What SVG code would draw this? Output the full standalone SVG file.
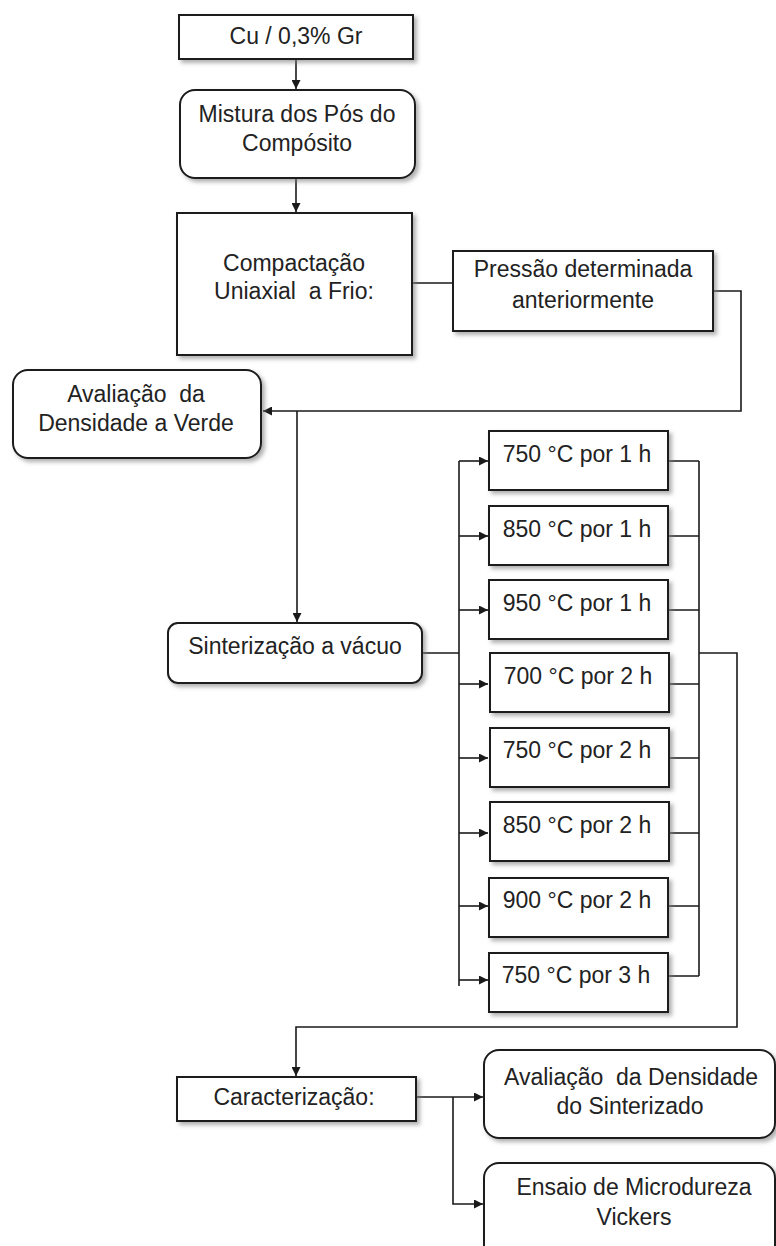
<svg xmlns="http://www.w3.org/2000/svg" width="776" height="1246" viewBox="0 0 776 1246">
  <style>
    .box { fill: #ffffff; stroke: #1a1a1a; stroke-width: 2; filter: url(#shadow); }
    .lbl { font-family: "Liberation Sans", Arial, sans-serif; font-size: 23px; fill: #222222; text-anchor: middle; white-space: pre; }
    .wire { fill: none; stroke: #1a1a1a; stroke-width: 1.6; }
    .arr { marker-end: url(#head); }
  </style>
  <defs>
    <filter id="shadow" x="-10%" y="-10%" width="130%" height="140%">
      <feDropShadow dx="3" dy="3" stdDeviation="2" flood-color="#7a7a7a" flood-opacity="0.6"/>
    </filter>
    <marker id="head" viewBox="0 0 10 10" refX="10" refY="5" markerWidth="9" markerHeight="9" markerUnits="userSpaceOnUse" orient="auto">
      <path d="M0,0 L10,5 L0,10 z" fill="#1a1a1a"/>
    </marker>
  </defs>

  <rect width="776" height="1246" fill="#ffffff"/>

  <!-- connectors -->
  <g id="connectors">
    <path class="wire arr" d="M296,59 V89"/>
    <path class="wire arr" d="M296,178 V212"/>
    <path class="wire" d="M412,283 H453"/>
    <path class="wire arr" d="M713,291 H741 V411 H263"/>
    <path class="wire arr" d="M297,411 V622"/>
    <path class="wire" d="M422,653 H459"/>
    <!-- fan-out bus to the sintering schedules -->
    <path class="wire" d="M459,461 V986"/>
    <path class="wire arr" d="M459,461 H488"/>
    <path class="wire arr" d="M459,536 H488"/>
    <path class="wire arr" d="M459,610 H488"/>
    <path class="wire arr" d="M459,684 H488"/>
    <path class="wire arr" d="M459,758 H488"/>
    <path class="wire arr" d="M459,833 H488"/>
    <path class="wire arr" d="M459,906 H488"/>
    <path class="wire arr" d="M459,980 H488"/>
    <!-- collecting bus -->
    <path class="wire" d="M668,461 H699 M668,536 H699 M668,610 H699 M668,684 H699 M668,758 H699 M668,833 H699 M668,906 H699 M668,976 H699"/>
    <path class="wire" d="M699,461 V976"/>
    <path class="wire arr" d="M699,653 H737 V1027 H296 V1076"/>
    <path class="wire arr" d="M416,1097 H483"/>
    <path class="wire arr" d="M453,1097 V1204 H483"/>
  </g>

  <g id="n-cu">
    <rect class="box" x="179" y="15" width="234" height="44"/>
    <text class="lbl" x="296" y="44">Cu / 0,3% Gr</text>
  </g>

  <g id="n-mistura">
    <rect class="box" x="180" y="90" width="235" height="88" rx="15"/>
    <text class="lbl" x="297" y="122">Mistura dos Pós do</text>
    <text class="lbl" x="297" y="151">Compósito</text>
  </g>

  <g id="n-compactacao">
    <rect class="box" x="177" y="213" width="235" height="142"/>
    <text class="lbl" x="294" y="271">Compactação</text>
    <text class="lbl" x="294" y="299" xml:space="preserve">Uniaxial  a Frio:</text>
  </g>

  <g id="n-pressao">
    <rect class="box" x="453" y="251" width="260" height="80"/>
    <text class="lbl" x="583" y="277">Pressão determinada</text>
    <text class="lbl" x="583" y="308">anteriormente</text>
  </g>

  <g id="n-verde">
    <rect class="box" x="13" y="370" width="248" height="88" rx="15"/>
    <text class="lbl" x="136" y="402" xml:space="preserve">Avaliação  da</text>
    <text class="lbl" x="136" y="431">Densidade a Verde</text>
  </g>

  <g id="n-sinterizacao">
    <rect class="box" x="168" y="623" width="254" height="60" rx="10"/>
    <text class="lbl" x="295" y="654">Sinterização a vácuo</text>
  </g>

  <g id="n-t1">
    <rect class="box" x="489" y="431" width="179" height="59"/>
    <text class="lbl" x="577" y="462">750 °C por 1 h</text>
  </g>
  <g id="n-t2">
    <rect class="box" x="489" y="506" width="179" height="59"/>
    <text class="lbl" x="577" y="537">850 °C por 1 h</text>
  </g>
  <g id="n-t3">
    <rect class="box" x="489" y="580" width="179" height="59"/>
    <text class="lbl" x="577" y="611">950 °C por 1 h</text>
  </g>
  <g id="n-t4">
    <rect class="box" x="490" y="653" width="179" height="59"/>
    <text class="lbl" x="578" y="684">700 °C por 2 h</text>
  </g>
  <g id="n-t5">
    <rect class="box" x="490" y="728" width="179" height="59"/>
    <text class="lbl" x="577" y="758">750 °C por 2 h</text>
  </g>
  <g id="n-t6">
    <rect class="box" x="490" y="802" width="179" height="59"/>
    <text class="lbl" x="577" y="833">850 °C por 2 h</text>
  </g>
  <g id="n-t7">
    <rect class="box" x="489" y="878" width="179" height="59"/>
    <text class="lbl" x="577" y="908">900 °C por 2 h</text>
  </g>
  <g id="n-t8">
    <rect class="box" x="489" y="953" width="179" height="59"/>
    <text class="lbl" x="576" y="983">750 °C por 3 h</text>
  </g>

  <g id="n-caracterizacao">
    <rect class="box" x="177" y="1077" width="239" height="44"/>
    <text class="lbl" x="294" y="1105">Caracterização:</text>
  </g>

  <g id="n-densidade-sint">
    <rect class="box" x="484" y="1050" width="291" height="88" rx="15"/>
    <text class="lbl" x="631" y="1085" xml:space="preserve">Avaliação  da Densidade</text>
    <text class="lbl" x="630" y="1114">do Sinterizado</text>
  </g>

  <g id="n-microdureza">
    <rect class="box" x="484" y="1163" width="291" height="100" rx="15"/>
    <text class="lbl" x="634" y="1195">Ensaio de Microdureza</text>
    <text class="lbl" x="634" y="1225">Vickers</text>
  </g>
</svg>
